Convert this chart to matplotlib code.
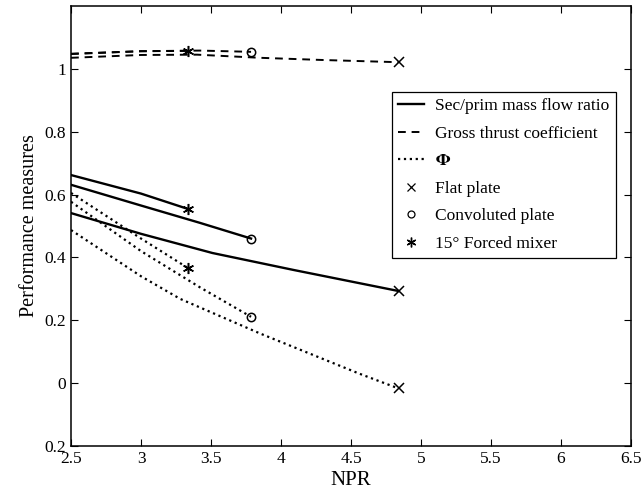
import matplotlib
matplotlib.use("Agg")
import matplotlib.pyplot as plt
from matplotlib import rcParams
from matplotlib.lines import Line2D

rcParams['font.family'] = 'Liberation Serif'
rcParams['mathtext.fontset'] = 'stix'

# NPR / value pairs
flat_npr = [2.5, 3.0, 3.51, 4.09, 4.56, 4.84]
flat_mass = [0.541, 0.475, 0.414, 0.36, 0.318, 0.293]
flat_phi_npr = [2.5, 3.0, 3.28, 3.85, 4.56, 4.84]
flat_phi = [0.487, 0.34, 0.268, 0.158, 0.03, -0.017]
flat_gross_npr = [2.5, 3.0, 3.4, 3.85, 4.3, 4.84]
flat_gross = [1.035, 1.044, 1.045, 1.035, 1.028, 1.021]

conv_npr = [2.5, 3.0, 3.42, 3.786]
conv_mass = [0.631, 0.565, 0.51, 0.46]
conv_phi = [0.577, 0.42, 0.305, 0.211]
conv_gross = [1.047, 1.056, 1.058, 1.054]

forced_npr = [2.5, 3.0, 3.336]
forced_mass = [0.662, 0.603, 0.554]
forced_phi = [0.605, 0.46, 0.366]
forced_gross = [1.048, 1.056, 1.057]

yticks = [-0.2, 0, 0.2, 0.4, 0.6, 0.8, 1.0]
ytick_labels = ['0.2', '0', '0.2', '0.4', '0.6', '0.8', '1']
xticks = [2.5, 3, 3.5, 4, 4.5, 5, 5.5, 6, 6.5]

fig = plt.figure(figsize=(6.41, 4.95), dpi=100)
ax = fig.add_axes([0.1108, 0.099, 0.8736, 0.889])

lw = 1.7
star = (6, 2, 0)
for npr, mass, pnpr, phi, gnpr, gross, mk, ms in [
        (flat_npr, flat_mass, flat_phi_npr, flat_phi, flat_gross_npr, flat_gross, 'x', 7),
        (conv_npr, conv_mass, conv_npr, conv_phi, conv_npr, conv_gross, 'o', 6),
        (forced_npr, forced_mass, forced_npr, forced_phi, forced_npr, forced_gross, star, 8)]:
    ax.plot(npr, mass, '-', color='k', lw=lw)
    ax.plot(pnpr, phi, ':', color='k', lw=1.6)
    ax.plot(gnpr, gross, '--', color='k', lw=1.4, dashes=(4, 3))
    for xs, ys in [(npr, mass), (pnpr, phi), (gnpr, gross)]:
        ax.plot(xs[-1], ys[-1], marker=mk, ls='none', color='k', mfc='none',
                ms=ms, mew=1.1)

ax.set_xlim(2.5, 6.5)
ax.set_ylim(-0.2, 1.2)
ax.set_xticks(xticks)
ax.set_xticklabels(['2.5', '3', '3.5', '4', '4.5', '5', '5.5', '6', '6.5'])
ax.set_yticks(yticks)
ax.set_yticklabels(ytick_labels)
ax.tick_params(axis='both', which='both', direction='in', top=True, right=True,
               labelsize=12.5, length=5, width=0.8)
for s in ax.spines.values():
    s.set_linewidth(1.1)

ax.set_xlabel("NPR", fontsize=15, labelpad=3)
ax.set_ylabel("Performance measures", fontsize=14.5, labelpad=4)

handles = [
    Line2D([], [], ls='-', color='k', lw=lw),
    Line2D([], [], ls='--', color='k', lw=1.4, dashes=(4, 3)),
    Line2D([], [], ls=':', color='k', lw=1.6),
    Line2D([], [], ls='none', marker='x', color='k', ms=6, mew=0.9),
    Line2D([], [], ls='none', marker='o', color='k', mfc='none', ms=5, mew=0.9),
    Line2D([], [], ls='none', marker=star, color='k', ms=7, mew=1.0),
]
labels = ["Sec/prim mass flow ratio", "Gross thrust coefficient", r"$\mathbf{\Phi}$",
          "Flat plate", "Convoluted plate", "15\u00b0 Forced mixer"]
leg = ax.legend(handles, labels, loc='upper left', bbox_to_anchor=(0.573, 0.805),
                borderaxespad=0, fancybox=False, framealpha=1, edgecolor='k',
                fontsize=12.5, handlelength=1.5, labelspacing=0.66, borderpad=0.35,
                handletextpad=0.65)
leg.get_frame().set_linewidth(0.9)

fig.savefig("out.png", dpi=100)
